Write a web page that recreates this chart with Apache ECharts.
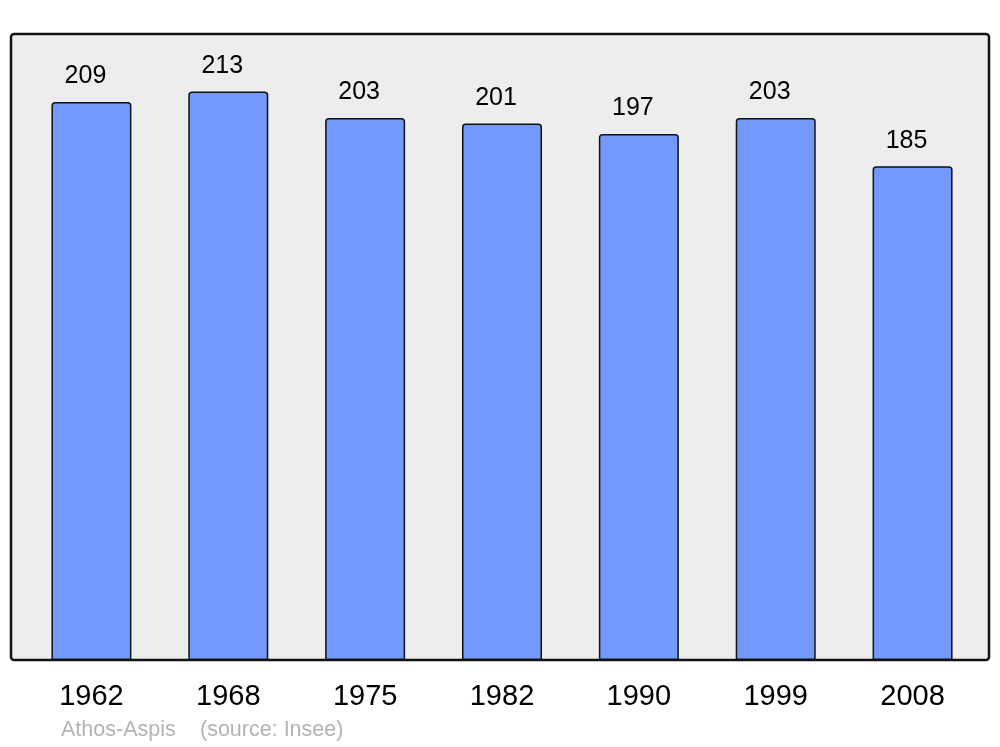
<!DOCTYPE html>
<html>
<head>
<meta charset="utf-8">
<script src="https://cdn.jsdelivr.net/npm/echarts@6/dist/echarts.min.js"></script>
<style>html,body{margin:0;padding:0;background:#fff}#c{width:1000px;height:747px}</style>
</head>
<body>
<div id="c"></div>
<script>
const years = ['1962','1968','1975','1982','1990','1999','2008'];
const population = [209, 213, 203, 201, 197, 203, 185];
const footerAuthor = 'Athos-Aspis';
const footerSource = '(source: Insee)';

const chart = echarts.init(document.getElementById('c'), null, {renderer: 'canvas'});
chart.setOption({
  animation: false,
  backgroundColor: '#ffffff',
  grid: {left: 23, right: 19, top: 34, bottom: 87},
  graphic: [
    {type: 'rect', z: -10, shape: {x: 11, y: 34, width: 978, height: 626, r: 3},
     style: {fill: '#ededed', stroke: '#111111', lineWidth: 2.5}},
    {type: 'text', left: 61, top: 719, style: {text: footerAuthor, fill: '#b3b3b3', font: '21.5px "Liberation Sans", Arial, sans-serif'}},
    {type: 'text', left: 200, top: 719, style: {text: footerSource, fill: '#b3b3b3', font: '21.5px "Liberation Sans", Arial, sans-serif'}}
  ],
  xAxis: {
    type: 'category', data: years,
    axisLine: {show: false}, axisTick: {show: false},
    axisLabel: {color: '#000', fontSize: 29, margin: 22, fontFamily: '"Liberation Sans", Arial, sans-serif'}
  },
  yAxis: {type: 'value', min: 0, max: 234.5, show: false, splitLine: {show: false}},
  series: [{
    type: 'bar', data: population, barWidth: 80,
    itemStyle: {color: '#7399ff', borderColor: '#111111', borderWidth: 1.5, borderRadius: [3,3,0,0]},
    label: {show: true, position: 'top', distance: 13, offset: [-6, 0], color: '#000', fontSize: 25, fontFamily: '"Liberation Sans", Arial, sans-serif'}
  }]
});
</script>
</body>
</html>
